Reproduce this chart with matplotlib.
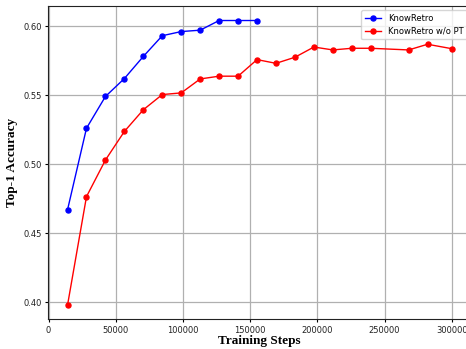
import matplotlib
matplotlib.use("Agg")
import matplotlib.pyplot as plt

steps_pt = [14100, 28200, 42300, 56400, 70500, 84600, 98700, 112800, 126900, 141000, 155100]
acc_pt = [0.467, 0.526, 0.549, 0.562, 0.578, 0.593, 0.596, 0.597, 0.604, 0.604, 0.604]

steps_nopt = [14100, 28200, 42300, 56400, 70500, 84600, 98700, 112800, 126900, 141000,
              155100, 169200, 183300, 197400, 211500, 225600, 239700, 267900, 282000, 300000]
acc_nopt = [0.398, 0.4765, 0.503, 0.5237, 0.5394, 0.5504, 0.5516, 0.5617, 0.5637, 0.5637,
            0.5757, 0.573, 0.5774, 0.5848, 0.5827, 0.5839, 0.5839, 0.5827, 0.5868, 0.5836]

fig = plt.figure(figsize=(4.66, 3.49), dpi=100)
ax = fig.add_axes([0.1037, 0.0851, 0.907, 0.8969])

ax.plot(steps_pt, acc_pt, color='blue', marker='o', markersize=3.6, linewidth=1.0, label='KnowRetro')
ax.plot(steps_nopt, acc_nopt, color='red', marker='o', markersize=3.6, linewidth=1.0, label='KnowRetro w/o PT')

ax.set_xticks([0, 50000, 100000, 150000, 200000, 250000, 300000])
ax.set_yticks([0.40, 0.45, 0.50, 0.55, 0.60])
ax.tick_params(labelsize=6, length=2.5, width=0.8, pad=2, labelcolor='#222222')
ax.grid(True, color='#b0b0b0', linewidth=0.9)
ax.set_axisbelow(True)
for s in ax.spines.values():
    s.set_color('#222222')

ax.set_xlabel('Training Steps', family='Liberation Serif', fontweight='bold', fontsize=9.5, labelpad=0)
ax.set_ylabel('Top-1 Accuracy', family='Liberation Serif', fontweight='bold', fontsize=9.5, labelpad=4)

ax.legend(loc='upper right', fontsize=6, framealpha=0.8)

fig.savefig('out.png', dpi=100)
